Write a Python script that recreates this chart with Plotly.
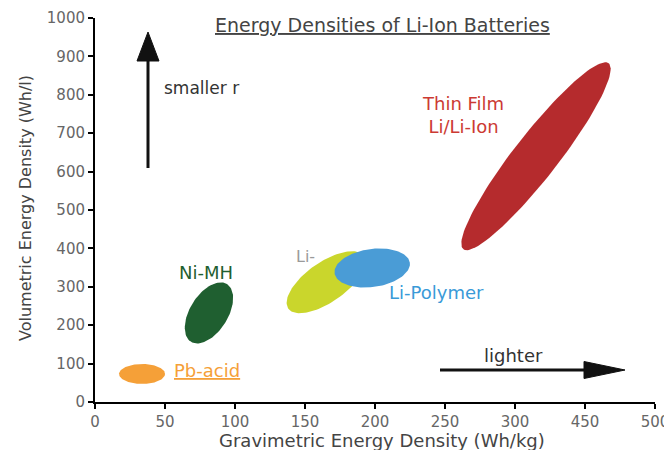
import numpy as np
import plotly.graph_objects as go

# ---- data (axis positions; x tick labels as printed in the original) ----
x_tick_pos = [0, 50, 100, 150, 200, 250, 300, 350, 400]
x_tick_labels = ["0", "50", "100", "150", "200", "250", "300", "450", "500"]
y_ticks = [0, 100, 200, 300, 400, 500, 600, 700, 800, 900, 1000]

names = ["Pb-acid", "Ni-MH", "Li-ion", "Li-Polymer", "Thin Film Li/Li-Ion"]
center_x = [33.6, 81.4, 165.0, 198.0, 315.0]
center_y = [73, 232, 312, 349, 640]
colors = ["#F5A038", "#1F5F30", "#CAD62C", "#4A9CD6", "#B52B2D"]

# ---- layout geometry (page body has an 8px default margin) ----
OFF = 8
W, H = 672 - OFF, 450 - OFF
PL, PR, PT, PB = 95, 655, 18, 402          # plot area in screen px
ML, MR, MT, MB = PL - OFF, 672 - PR, PT - OFF, 450 - PB
XR = (0, 400)
YR = (0, 1000)
pw, ph = PR - PL, PB - PT
ux = (XR[1] - XR[0]) / pw  # data units per px
uy = (YR[1] - YR[0]) / ph

def paper_x(sx):
    return (sx - PL) / pw

def paper_y(sy):
    return (PB - sy) / ph

def dx(sx):
    return XR[0] + (sx - PL) * ux

def dy(sy):
    return YR[0] + (PB - sy) * uy

# ellipse shape styling: semi-major px, semi-minor px, tilt deg
semi_major = [23, 34, 46, 38, 118]
semi_minor = [10, 19, 20, 19, 22]
tilt = [0, 58, 35, 8, 52]

fig = go.Figure()
t = np.linspace(0, 2 * np.pi, 120)
for n, cx, cy, c, a, b, ang in zip(names, center_x, center_y, colors, semi_major, semi_minor, tilt):
    th = np.deg2rad(ang)
    px = a * np.cos(t) * np.cos(th) - b * np.sin(t) * np.sin(th)
    py = a * np.cos(t) * np.sin(th) + b * np.sin(t) * np.cos(th)
    fig.add_trace(go.Scatter(x=cx + px * ux, y=cy + py * uy, mode="lines", fill="toself",
                             fillcolor=c, line=dict(color=c, width=0), name=n,
                             hoverinfo="name", showlegend=False))

font = "DejaVu Sans, Open Sans, sans-serif"

axis_common = dict(showgrid=False, zeroline=False, showline=True, linecolor="black", linewidth=2,
                   ticks="outside", ticklen=5, tickwidth=2, tickcolor="black", automargin=False,
                   ticklabeloverflow="allow")

fig.update_layout(
    width=W, height=H, margin=dict(l=ML, r=MR, t=MT, b=MB, autoexpand=False),
    plot_bgcolor="white", paper_bgcolor="white",
    font=dict(family=font, color="#555555"),
    xaxis=dict(range=list(XR), tickvals=x_tick_pos, ticktext=x_tick_labels,
               tickfont=dict(size=15, color="#666666"), **axis_common),
    yaxis=dict(range=list(YR), tickvals=y_ticks,
               tickfont=dict(size=15, color="#666666"), **axis_common),
)

def paper_text(text, sx, sy, size, color="#444444", **kw):
    fig.add_annotation(text=text, x=paper_x(sx), y=paper_y(sy), xref="paper", yref="paper",
                       xanchor="center", yanchor="middle", showarrow=False,
                       font=dict(family=font, size=size, color=color), **kw)

# axis titles and chart title
paper_text("Gravimetric Energy Density (Wh/kg)", 382, 440, 18)
paper_text("Volumetric Energy Density (Wh/l)", 25, 208, 16, textangle=-90)
paper_text("<u>Energy Densities of Li-Ion Batteries</u>", 382, 25, 19)

def label(text, x, y, color, size=14, **kw):
    fig.add_annotation(text=text, x=x, y=y, xref="x", yref="y", showarrow=False,
                       yanchor="middle", font=dict(family=font, size=size, color=color), **kw)

label("Thin Film<br>Li/Li-Ion", 263, 747, "#CC3A33", size=18)
label("Li-", 150.7, 378, "#9A9A9A", size=16)
label("Li-Polymer", 243.6, 284, "#3A9AD8", size=18)
label("Ni-MH", 79, 336, "#1F5F30", size=18)
label("<u>Pb-acid</u>", 55, 81, "#F5A038", size=18, xanchor="left")
label("smaller r", 47.9, 818, "#333333", size=17, xanchor="left")
label("lighter", 298.6, 120, "#333333", size=18)

# arrows (shaft + triangular head), drawn in screen px then mapped to axes
def arrow(tail, tip, base, half_w):
    (tx, ty), (hx, hy) = tail, tip
    fig.add_shape(type="line", xref="x", yref="y", x0=dx(tx), y0=dy(ty), x1=dx(base[0]), y1=dy(base[1]),
                  line=dict(color="#111111", width=3))
    vx, vy = hx - base[0], hy - base[1]
    L = np.hypot(vx, vy)
    nx, ny = -vy / L * half_w, vx / L * half_w
    p1 = (base[0] + nx, base[1] + ny)
    p2 = (base[0] - nx, base[1] - ny)
    path = "M {},{} L {},{} L {},{} Z".format(dx(hx), dy(hy), dx(p1[0]), dy(p1[1]), dx(p2[0]), dy(p2[1]))
    fig.add_shape(type="path", xref="x", yref="y", path=path, fillcolor="#111111",
                  line=dict(color="#111111", width=1))

arrow(tail=(148, 168), tip=(148, 32), base=(148, 61), half_w=11)
arrow(tail=(440, 370), tip=(625, 370), base=(584, 370), half_w=8.5)

fig.write_html("out.html")
